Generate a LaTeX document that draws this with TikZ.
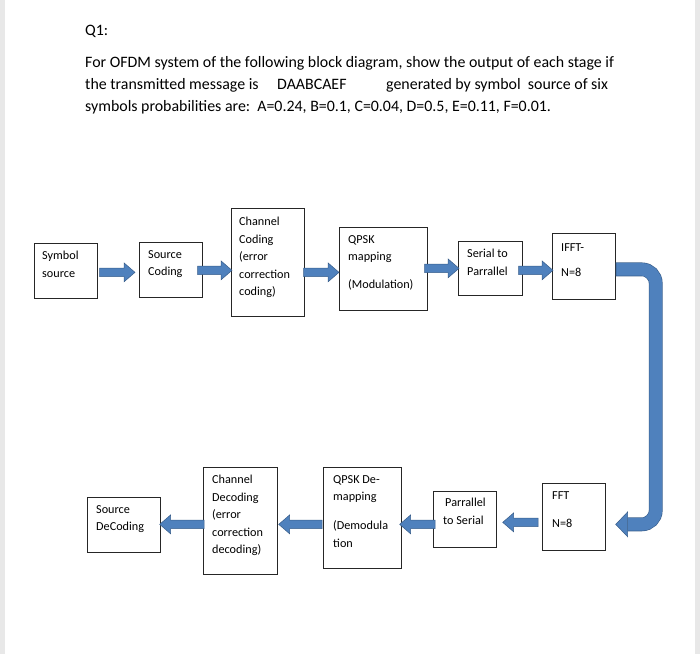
\documentclass[tikz,border=0pt]{standalone}
\usepackage{fontspec}
\setmainfont{Carlito}
\usetikzlibrary{calc}
\definecolor{arrowblue}{HTML}{4F81BD}
\definecolor{arrowedge}{HTML}{385D8A}
% block arrow between two points, #1 = 1 (to the right) or -1 (to the left)
\newcommand\blockarrow[3][1]{%
  \draw[barrow] let \p1=(#2), \p2=(#3) in
    (\x1,{\y1+4.2pt}) -- ({\x2-(#1)*11pt},{\y1+4.2pt}) -- ({\x2-(#1)*11pt},{\y1+9.5pt})
    -- (\x2,\y1) -- ({\x2-(#1)*11pt},{\y1-9.5pt}) -- ({\x2-(#1)*11pt},{\y1-4.2pt})
    -- (\x1,{\y1-4.2pt}) -- cycle;}

\begin{document}
\begin{tikzpicture}[x=1pt,y=-1pt,
    box/.style={draw=black!85,line width=0.7pt,rectangle,inner sep=0pt,anchor=north west},
    boxtext/.style={anchor=north west,inner sep=0pt,align=left,font=\fontsize{12.2}{17.5}\selectfont},
    question/.style={anchor=north west,inner sep=0pt,align=left,font=\fontsize{15.9}{22.3}\selectfont},
    barrow/.style={fill=arrowblue,draw=arrowedge,line width=0.5pt}]
  \useasboundingbox (0,0) rectangle (700,654);
  \fill[gray!18] (0,0) rectangle (5,654);
  \fill[gray!18] (695,0) rectangle (700,654);

  % question text
  \node[question] (qnum) at (85,25) {Q1:};
  \node[question] (qtext) at (85,56) {For OFDM system of the following block diagram, show the output of each stage if\\
    \makebox[192pt][l]{the transmitted message is}\makebox[109pt][l]{DAABCAEF}generated by symbol\ \ source of six\\
    symbols probabilities are:\ \ A=0.24, B=0.1, C=0.04, D=0.5, E=0.11, F=0.01.};

  % transmitter
  \node[box,minimum width=63pt,minimum height=55pt] (symsrc) at (34,243) {};
  \node[box,minimum width=63pt,minimum height=55pt] (srccod) at (139,242) {};
  \node[box,minimum width=73pt,minimum height=108pt] (chcod) at (231,208) {};
  \node[box,minimum width=88pt,minimum height=83pt] (qpskmap) at (339,227) {};
  \node[box,minimum width=64pt,minimum height=54pt] (sertopar) at (458,241) {};
  \node[box,minimum width=63pt,minimum height=66pt] (ifft) at (552,233) {};
  \node[boxtext] (symsrc-t) at ([xshift=8pt,yshift=-8pt]symsrc.north west) {Symbol\\source};
  \node[boxtext] (srccod-t) at ([xshift=9pt,yshift=-8pt]srccod.north west) {Source\\Coding};
  \node[boxtext] (chcod-t) at ([xshift=8pt,yshift=-9pt]chcod.north west) {Channel\\Coding\\(error\\correction\\coding)};
  \node[boxtext] (qpskmap-t) at ([xshift=9pt,yshift=-8pt]qpskmap.north west) {QPSK\\mapping\\[10.5pt](Modulation)};
  \node[boxtext] (sertopar-t) at ([xshift=9pt,yshift=-8pt]sertopar.north west) {Serial to\\Parrallel};
  \node[boxtext] (ifft-t) at ([xshift=9pt,yshift=-10pt]ifft.north west) {IFFT-\\[8pt]N=8};

  % receiver
  \node[box,minimum width=73pt,minimum height=55pt] (srcdec) at (87,497) {};
  \node[box,minimum width=74pt,minimum height=107pt] (chdec) at (203,467) {};
  \node[box,minimum width=78pt,minimum height=101pt] (qpskdemap) at (323,467) {};
  \node[box,minimum width=63pt,minimum height=56pt] (partoser) at (433,491) {};
  \node[box,minimum width=63pt,minimum height=67pt] (fft) at (542,483) {};
  \node[boxtext] (srcdec-t) at ([xshift=9pt,yshift=-8pt]srcdec.north west) {Source\\DeCoding};
  \node[boxtext] (chdec-t) at ([xshift=9pt,yshift=-8pt]chdec.north west) {Channel\\Decoding\\(error\\correction\\decoding)};
  \node[boxtext] (qpskdemap-t) at ([xshift=10pt,yshift=-8pt]qpskdemap.north west) {QPSK De-\\mapping\\[11.5pt](Demodula\\tion};
  \node[boxtext] (partoser-t) at ([xshift=10pt,yshift=-7pt]partoser.north west) {\hspace{2pt}Parrallel\\to Serial};
  \node[boxtext] (fft-t) at ([xshift=10pt,yshift=-8pt]fft.north west) {FFT\\[10.5pt]N=8};

  % arrows
  \blockarrow{[xshift=2pt,yshift=-1.5pt]symsrc.east}{[xshift=-4pt]srccod.west}
  \blockarrow{[xshift=-5pt,yshift=-0.5pt]srccod.east}{[xshift=1pt]chcod.west}
  \blockarrow{[xshift=-1pt,yshift=-10pt]chcod.east}{qpskmap.west}
  \blockarrow{[xshift=-3pt,yshift=0.5pt]qpskmap.east}{[xshift=1pt]sertopar.west}
  \blockarrow{[xshift=-4pt,yshift=-2pt]sertopar.east}{[xshift=1pt]ifft.west}
  \draw[arrowedge,line width=13.8pt,rounded corners=14pt] ([yshift=-3pt]ifft.east) -- ++(40,0) |- ([xshift=22pt,yshift=-7.5pt]fft.east);
  \draw[arrowblue,line width=12.6pt,rounded corners=14pt] ([xshift=0.7pt,yshift=-3pt]ifft.east) -- ++(39.3,0) |- ([xshift=22pt,yshift=-7.5pt]fft.east);
  \fill[barrow] ([xshift=10pt,yshift=-7.5pt]fft.east) -- ++(12,-12.5) -- ++(0,25) -- cycle;
  \blockarrow[-1]{[xshift=-4pt,yshift=-5.5pt]fft.west}{[xshift=6pt]partoser.east}
  \blockarrow[-1]{[xshift=2pt,yshift=-5pt]partoser.west}{[xshift=-2pt]qpskdemap.east}
  \blockarrow[-1]{[xshift=-1pt,yshift=-6.5pt]qpskdemap.west}{[xshift=1pt]chdec.east}
  \blockarrow[-1]{[xshift=1pt,yshift=-3.5pt]chdec.west}{[xshift=-1pt]srcdec.east}
\end{tikzpicture}
\end{document}
